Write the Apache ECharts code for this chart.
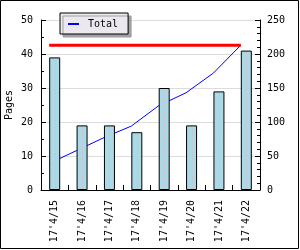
<!DOCTYPE html>
<html>
<head>
<meta charset="utf-8">
<script src="https://cdn.jsdelivr.net/npm/echarts@6/dist/echarts.min.js"></script>
<style>
html,body{margin:0;padding:0;background:#fff;}
#c{width:300px;height:250px;}
</style>
</head>
<body>
<div id="c"></div>
<script>
const categories = ["17'4/15","17'4/16","17'4/17","17'4/18","17'4/19","17'4/20","17'4/21","17'4/22"];
const pages = [39, 19, 19, 17, 30, 19, 29, 41];
const cumulative = [39, 58, 77, 94, 124, 143, 172, 213];
const totalValue = 213;
const totalLine = categories.map(() => totalValue);
const leftTicks = {min: 0, max: 50, interval: 10};
const rightTicks = {min: 0, max: 250, interval: 50};

const FONT = 'DejaVu Sans Mono';
const chart = echarts.init(document.getElementById('c'), null, {renderer: 'canvas'});
const txt = {color: '#000', fontFamily: FONT, fontSize: 10};

chart.setOption({
  animation: false,
  backgroundColor: '#fff',
  textStyle: {fontFamily: FONT},
  graphic: [{
    type: 'rect', z: -10, silent: true,
    shape: {x: 0.5, y: 0.5, width: 298, height: 248},
    style: {fill: '#fff', stroke: '#000', lineWidth: 1}
  }],
  legend: {
    data: [{name: 'Total', icon: 'rect'}],
    left: 60, top: 13,
    itemWidth: 11, itemHeight: 2,
    padding: [6, 10, 5, 8],
    backgroundColor: '#ebe9ef',
    borderColor: '#000', borderWidth: 1,
    shadowColor: '#a0a0a0', shadowBlur: 0, shadowOffsetX: 3, shadowOffsetY: 3,
    textStyle: Object.assign({}, txt, {padding: [0, 0, 0, 4]}),
    selectedMode: false
  },
  grid: [
    {left: 41, right: 40, top: 20, bottom: 60, outerBoundsMode: 'none', containLabel: false},
    {left: 35.5, right: 45.5, top: 20, bottom: 60, outerBoundsMode: 'none', containLabel: false}
  ],
  xAxis: [{
    type: 'category', gridIndex: 0, data: categories, boundaryGap: true,
    axisLine: {show: true, lineStyle: {color: '#000', width: 1}},
    axisTick: {show: true, inside: true, length: 5, alignWithLabel: false, lineStyle: {color: '#000'}},
    axisLabel: Object.assign({rotate: 90, margin: 10, interval: 0}, txt),
    splitLine: {show: false}
  }, {
    type: 'category', gridIndex: 1, data: categories, boundaryGap: true, show: false
  }],
  yAxis: [{
    type: 'value', gridIndex: 0, position: 'left',
    min: leftTicks.min, max: leftTicks.max, interval: leftTicks.interval,
    name: 'Pages', nameLocation: 'middle', nameGap: 27, nameRotate: 90,
    nameMoveOverlap: false,
    nameTextStyle: txt,
    axisLine: {show: true, lineStyle: {color: '#000', width: 1}},
    axisTick: {show: true, inside: true, length: 5, lineStyle: {color: '#000'}},
    minorTick: {show: true, splitNumber: 2, length: 3, lineStyle: {color: '#000'}},
    axisLabel: Object.assign({margin: 8}, txt),
    splitLine: {show: true, lineStyle: {color: '#dcdcdc', width: 1}}
  }, {
    type: 'value', gridIndex: 0, position: 'right',
    min: rightTicks.min, max: rightTicks.max, interval: rightTicks.interval,
    axisLine: {show: true, lineStyle: {color: '#000', width: 1}},
    axisTick: {show: true, inside: true, length: 5, lineStyle: {color: '#000'}},
    minorTick: {show: true, splitNumber: 5, length: 3, lineStyle: {color: '#000'}},
    axisLabel: Object.assign({margin: 7}, txt),
    splitLine: {show: false}
  }, {
    type: 'value', gridIndex: 1, min: rightTicks.min, max: rightTicks.max, show: false
  }],
  series: [{
    name: 'Total', type: 'line', xAxisIndex: 1, yAxisIndex: 2, data: cumulative,
    showSymbol: false, symbol: 'none', z: 1,
    lineStyle: {color: '#0000ff', width: 1}, itemStyle: {color: '#0000ff'}
  }, {
    name: 'TotalLevel', type: 'line', xAxisIndex: 1, yAxisIndex: 2, data: totalLine,
    showSymbol: false, symbol: 'none', z: 3,
    lineStyle: {color: '#ff0000', width: 3}, itemStyle: {color: '#ff0000'}
  }, {
    name: 'Pages', type: 'bar', xAxisIndex: 0, yAxisIndex: 0, data: pages,
    barWidth: 11, z: 2,
    itemStyle: {color: '#add8e6', borderColor: '#000', borderWidth: 1}
  }, {
    name: 'dots', type: 'custom', xAxisIndex: 0, yAxisIndex: 0, z: 4,
    data: pages.map((v, i) => [i, v]),
    renderItem: function (params, api) {
      const top = api.coord([api.value(0), api.value(1)]);
      const base = api.coord([api.value(0), 0]);
      const x = Math.round(top[0]) + 0.5;
      return {
        type: 'line', silent: true,
        shape: {x1: x, y1: top[1] + 3, x2: x, y2: base[1] - 1},
        style: {stroke: '#e3b3bb', lineWidth: 1, lineDash: [1, 2]}
      };
    }
  }]
});
</script>
</body>
</html>
